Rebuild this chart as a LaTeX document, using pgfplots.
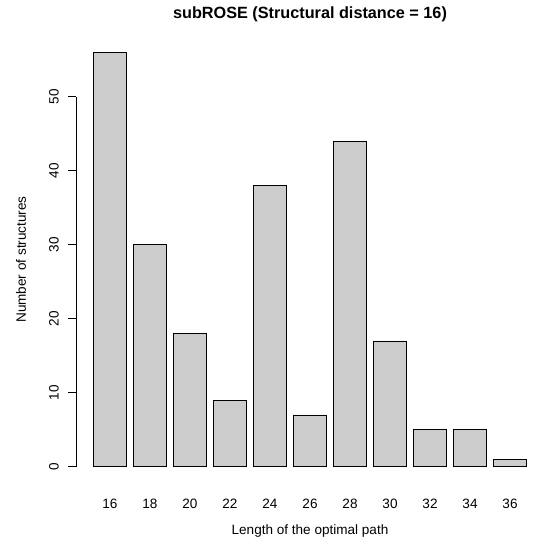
\documentclass[border=0pt]{standalone}
\usepackage{fontspec}
\setmainfont{Liberation Sans}
\usepackage{pgfplots}
\pgfplotsset{compat=1.18}
\definecolor{bargray}{gray}{0.8}
\begin{document}
\begin{tikzpicture}
\path[use as bounding box] (0,0) rectangle (545bp,540bp);
\begin{axis}[
  at={(76bp,56.7bp)}, anchor=south west,
  scale only axis, width=468bp, height=447.6bp,
  xmin=-0.32, xmax=13.72, ymin=-2.24, ymax=58.24,
  axis line style={draw=none},
  font=\fontsize{13.6}{16}\selectfont,
  /pgf/number format/assume math mode=true,
  xtick={0.7,1.9,3.1,4.3,5.5,6.7,7.9,9.1,10.3,11.5,12.7},
  xticklabels={16,18,20,22,24,26,28,30,32,34,36},
  x tick style={draw=none},
  xticklabel style={anchor=north, inner sep=0pt, yshift=-7.5bp},
  ytick={0,10,20,30,40,50},
  ytick pos=left,
  y tick style={black, line width=0.8bp},
  tick align=outside,
  major tick length=8bp,
  yticklabel style={xshift=-9.3bp, rotate=90, anchor=base, inner sep=0pt},
  title={\bfseries subROSE (Structural distance = 16)},
  title style={font=\fontsize{16.3}{19}\selectfont\bfseries, at={(axis description cs:0.5,1)}, anchor=base, yshift=11bp, inner sep=0pt},
  xlabel={Length of the optimal path},
  xlabel style={at={(axis description cs:0.5,0)}, anchor=base, yshift=-51bp, inner sep=0pt},
  ylabel={Number of structures},
  ylabel style={at={([xshift=-50bp]axis description cs:0,0.5)}, anchor=base, inner sep=0pt},
  clip=false,
]
\draw[line width=0.8bp] (axis cs:-0.32,0) -- (axis cs:-0.32,50);
\addplot[ybar, bar width=1, fill=bargray, draw=black, line width=0.8bp] coordinates {
  (0.7,56) (1.9,30) (3.1,18) (4.3,9) (5.5,38) (6.7,7) (7.9,44) (9.1,17) (10.3,5) (11.5,5) (12.7,1)
};
\end{axis}
\end{tikzpicture}
\end{document}
